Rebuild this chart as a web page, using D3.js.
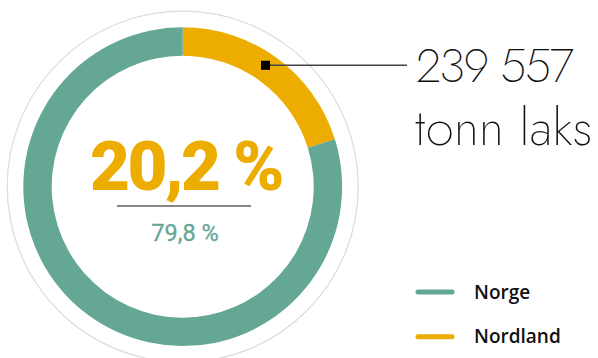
<!DOCTYPE html>
<html><head><meta charset="utf-8">
<script src="https://cdn.jsdelivr.net/npm/d3@7"></script>
<style>
html,body{margin:0;padding:0;background:#fff;}
svg{display:block;}
</style></head>
<body>
<script>
const categories = ["Nordland", "Norge"];
const shares = [20.2, 79.8];
const colors = ["#EDAC00", "#64A794"];
const legendOrder = ["Norge", "Nordland"];
const highlightLabel = "20,2 %";
const restLabel = "79,8 %";
const annotationLines = ["239 557", "tonn laks"];

const W = 598, H = 358;
const svg = d3.select("body").append("svg").attr("width", W).attr("height", H);
const cx = 182.7, cy = 186.7;
const rOut = 159.4, rIn = 131, rRing = 175.5;

const color = d3.scaleOrdinal().domain(categories).range(colors);

svg.append("circle").attr("cx", cx).attr("cy", cy).attr("r", rRing)
  .attr("fill", "none").attr("stroke", "#dcdcdc").attr("stroke-width", 1.2);

const pie = d3.pie().sort(null).value(d => d.v);
const data = pie(categories.map((c, i) => ({c, v: shares[i]})));
const arc = d3.arc().innerRadius(rIn).outerRadius(rOut);
const g = svg.append("g").attr("transform", `translate(${cx},${cy})`);
g.selectAll("path").data(data).enter().append("path")
  .attr("d", arc).attr("fill", d => color(d.data.c));

// annotation marker on Nordland arc
const yAnn = 65.3;
svg.append("line").attr("x1", 266).attr("y1", yAnn).attr("x2", 407).attr("y2", yAnn)
  .attr("stroke", "#444").attr("stroke-width", 1.6);
svg.append("rect").attr("x", 261).attr("y", yAnn - 4.5).attr("width", 9).attr("height", 9).attr("fill", "#000");

const annFont = "'Jost','Lato','Inter',sans-serif";
const ann = svg.append("text").attr("font-family", annFont).attr("font-weight", 200).attr("fill", "#111");
ann.append("tspan").attr("x", 416).attr("y", 81.5).text(annotationLines[0])
  .attr("font-size", 47).attr("letter-spacing", -1.6);
ann.append("tspan").attr("x", 415).attr("y", 145).text(annotationLines[1])
  .attr("font-size", 50.5).attr("letter-spacing", 0.3);

// center labels
svg.append("text").attr("x", 186).attr("y", 190).attr("text-anchor", "middle")
  .attr("font-family", "'Roboto','Open Sans',sans-serif").attr("font-weight", 900)
  .attr("font-size", 69).attr("letter-spacing", -2.5).attr("fill", colors[0]).text(highlightLabel);
svg.append("line").attr("x1", 117).attr("x2", 251).attr("y1", 206).attr("y2", 206)
  .attr("stroke", "#111").attr("stroke-width", 1.2);
svg.append("text").attr("x", 185).attr("y", 240.7).attr("text-anchor", "middle")
  .attr("font-family", "'Roboto',sans-serif").attr("font-weight", 400)
  .attr("font-size", 23.5).attr("fill", colors[1]).attr("stroke", colors[1]).attr("stroke-width", 0.3)
  .text(restLabel);

// legend
const ly = d3.scalePoint().domain(legendOrder).range([292, 336.7]);
const lg = svg.append("g");
legendOrder.forEach(name => {
  lg.append("line").attr("x1", 418).attr("x2", 452).attr("y1", ly(name)).attr("y2", ly(name))
    .attr("stroke", color(name)).attr("stroke-width", 5).attr("stroke-linecap", "round");
  lg.append("text").attr("x", 474).attr("y", ly(name) + 6.5).text(name)
    .attr("font-family", "'Open Sans',sans-serif").attr("font-weight", 600)
    .attr("font-size", 19).attr("fill", "#111");
});
</script>
</body></html>
